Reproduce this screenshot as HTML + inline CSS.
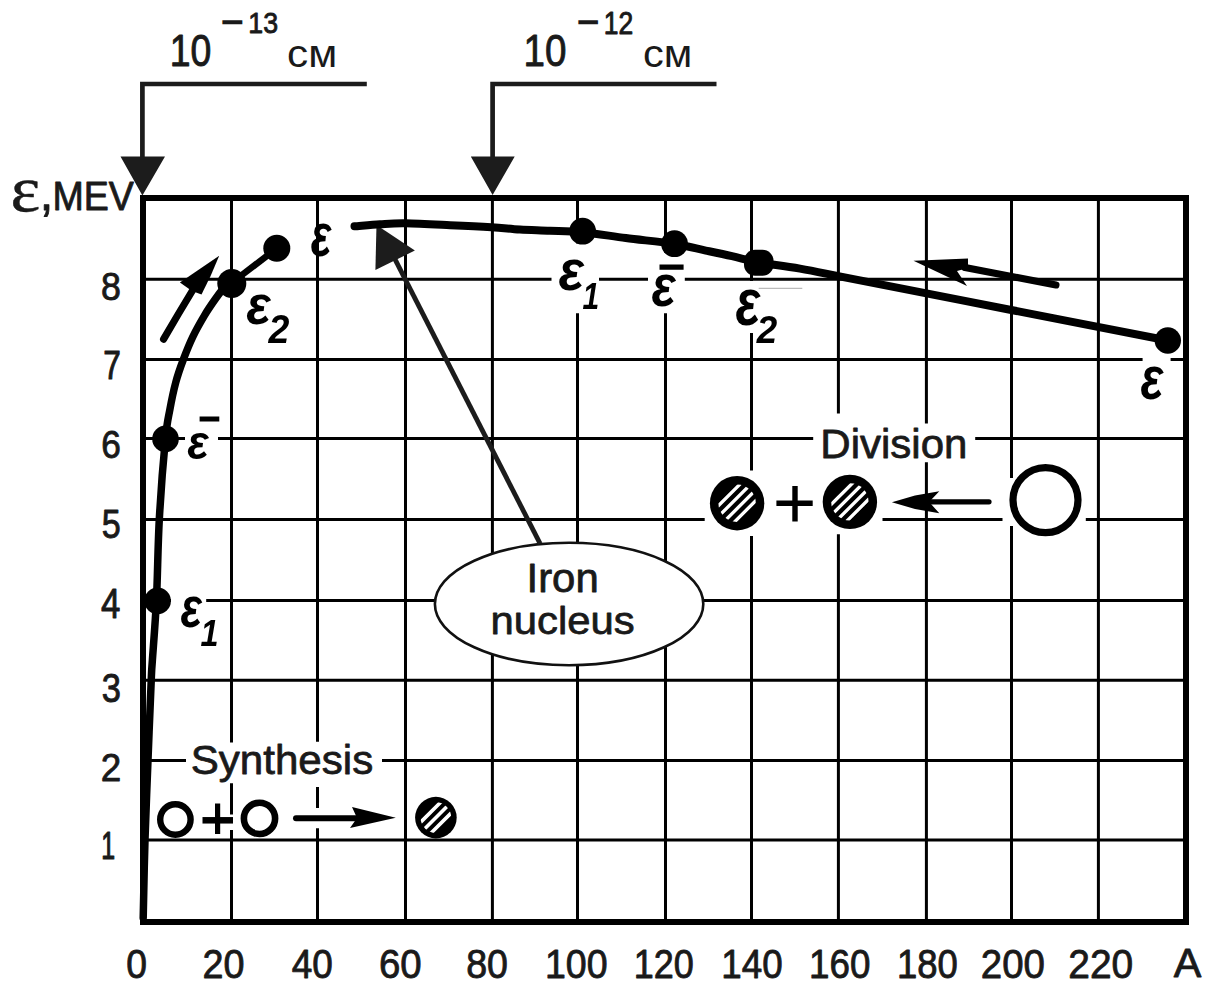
<!DOCTYPE html>
<html><head><meta charset="utf-8"><title>Binding energy per nucleon</title>
<style>html,body{margin:0;padding:0;background:#fff;}svg{display:block;}</style></head>
<body><svg width="1215" height="991" viewBox="0 0 1215 991">
<defs><filter id="soft" x="-2%" y="-2%" width="104%" height="104%"><feGaussianBlur stdDeviation="0.6"/></filter></defs>
<rect width="1215" height="991" fill="#fff"/>
<path d="M143.0,279.2H551.5M599.0,279.2H648.0M684.8,279.2H1186.0M143.0,359.6H1142.6M1170.6,359.6H1186.0M143.0,438.4H185.0M218.0,438.4H813.2M975.2,438.4H1186.0M143.0,519.6H704.7M882.5,519.6H1002.5M1085.8,519.6H1186.0M143.0,600.4H171.0M206.2,600.4H1186.0M143.0,680.3H1186.0M143.0,760.6H186.0M382.0,760.6H1186.0M143.0,839.9H1186.0M231.5,198.0V742.5M231.5,783.2V814.4M231.5,830.0V922.0M317.5,198.0V741.7M317.5,787.0V808.0M317.5,828.3V922.0M405.5,198.0V922.0M492.4,198.0V922.0M577.5,198.0V243.5M577.5,313.2V922.0M665.5,198.0V252.7M665.5,313.2V922.0M751.5,198.0V281.0M751.5,333.0V470.4M751.5,536.0V922.0M838.4,198.0V413.4M838.4,534.3V922.0M926.4,198.0V423.5M926.4,462.3V922.0M1011.5,198.0V478.0M1011.5,526.0V922.0M1098.4,198.0V922.0" stroke="#000" stroke-width="3" fill="none"/>
<rect x="143" y="198" width="1043" height="724" fill="none" stroke="#000" stroke-width="6"/>
<path d="M142.4,84H366.8M142.4,81.7V158M492.6,84H716.5M492.6,81.7V158" stroke="#1c1c1c" stroke-width="4.7" fill="none"/>
<path d="M120.5,156.6H165L142.4,195.5ZM470.8,156.6H514.7L492.6,195Z" fill="#1c1c1c"/>
<ellipse cx="569.1" cy="604" rx="134.2" ry="61.2" fill="#fff" stroke="#111" stroke-width="2.6"/>
<path d="M394.3,257.9L540.1,543.6" stroke="#1c1c1c" stroke-width="4.8" fill="none"/>
<path d="M376.5,225L375.4,270L414.9,250.5Z" fill="#1c1c1c"/>
<g filter="url(#soft)">
<path d="M143.2,918.0 C143.5,905.0 144.2,866.3 145.0,840.0 C145.8,813.7 147.0,786.5 148.0,760.0 C149.0,733.5 150.5,697.7 151.2,681.0 C151.9,664.3 151.5,673.3 152.4,660.0 C153.3,646.7 155.2,624.4 156.4,601.0 C157.6,577.6 157.8,546.5 159.3,519.5 C160.8,492.5 163.6,457.4 165.4,439.0 C167.2,420.6 168.2,418.8 169.9,409.4 C171.6,400.0 173.5,390.9 175.7,382.6 C177.9,374.3 180.4,367.3 183.3,359.6 C186.2,351.9 189.4,343.9 192.9,336.6 C196.4,329.3 200.6,322.0 204.4,315.6 C208.2,309.2 212.4,303.2 215.9,298.3 C219.4,293.4 222.9,288.6 225.5,286.0 C228.1,283.4 230.5,283.5 231.5,283.0" stroke="#000" stroke-width="7.5" fill="none" stroke-linecap="round"/>
<path d="M231.5,283L276.8,248.3" stroke="#000" stroke-width="6.5" fill="none"/>
<path d="M354.5,226.3 C358.8,226.0 371.4,224.7 380.0,224.2 C388.6,223.7 394.1,223.1 405.8,223.3 C417.5,223.5 435.7,224.5 450.0,225.2 C464.3,225.8 479.7,226.5 491.4,227.2 C503.1,227.9 510.2,228.9 520.0,229.5 C529.8,230.1 539.6,230.2 550.0,230.7 C560.4,231.1 570.0,231.0 582.6,232.2 C595.2,233.4 610.5,236.0 625.8,238.0 C641.1,240.0 661.2,241.9 674.5,244.0 C687.8,246.1 696.2,248.6 705.8,250.6 C715.4,252.6 723.2,254.2 732.0,256.2 C740.8,258.1 747.2,260.2 758.5,262.3 C769.8,264.4 783.1,265.6 800.0,268.6 C816.9,271.6 824.6,273.5 860.0,280.4 C895.4,287.3 961.2,300.2 1012.5,310.2 C1063.8,320.2 1141.9,335.4 1167.8,340.5" stroke="#000" stroke-width="8" fill="none" stroke-linecap="round"/>
<path d="M163.6,339.1Q178.5,313.5 194,288" stroke="#000" stroke-width="7.2" fill="none" stroke-linecap="round"/>
<path d="M179.9,282.6L219.2,255.7L210.6,276L201.5,294.5L192,291Z" fill="#000"/>
<path d="M965,267.5L1056,285" stroke="#000" stroke-width="7" fill="none" stroke-linecap="round"/>
<path d="M913.5,260.8L968,258.5L968,268L957,271L967,286Z" fill="#000"/>
<circle cx="231.8" cy="283.4" r="14.5" fill="#000"/>
<circle cx="276.8" cy="248.3" r="13.5" fill="#000"/>
<circle cx="165.5" cy="438.9" r="13.3" fill="#000"/>
<circle cx="157.6" cy="600.9" r="13.3" fill="#000"/>
<circle cx="582.6" cy="231.2" r="13.4" fill="#000"/>
<circle cx="674.5" cy="243.7" r="13.4" fill="#000"/>
<circle cx="1167.8" cy="340.5" r="13.2" fill="#000"/>
<rect x="744" y="249.7" width="29.5" height="26" rx="11" fill="#000"/>
<circle cx="175.4" cy="819.5" r="15.2" fill="#fff" stroke="#000" stroke-width="6.4"/>
<path d="M202.5,820.3H233" stroke="#000" stroke-width="6.5" fill="none"/><path d="M217.6,803.5V834" stroke="#000" stroke-width="5.2" fill="none"/>
<circle cx="259.5" cy="818.4" r="15.6" fill="#fff" stroke="#000" stroke-width="6.6"/>
<path d="M296,818.2H356" stroke="#000" stroke-width="6" fill="none" stroke-linecap="round"/>
<path d="M352,806.9L395.8,817.7L350,828L357,818Z" fill="#000"/>
<clipPath id="c435"><circle cx="435.9" cy="817.6" r="15.3"/></clipPath><circle cx="435.9" cy="817.6" r="20.8" fill="#000"/><g clip-path="url(#c435)"><path d="M395.9,810.1H475.9M395.9,817.6H475.9M395.9,825.1H475.9" stroke="#fff" stroke-width="3.6" transform="rotate(-45 435.9 817.6)"/></g>
<clipPath id="c737"><circle cx="737.1" cy="503.2" r="18.7"/></clipPath><circle cx="737.1" cy="503.2" r="27.2" fill="#000"/><g clip-path="url(#c737)"><path d="M697.1,491.8H777.1M697.1,499.4H777.1M697.1,507.0H777.1M697.1,514.6H777.1" stroke="#fff" stroke-width="3.3" transform="rotate(-45 737.1 503.2)"/></g>
<path d="M776.4,503.2H812.7M795,485.9V521.4" stroke="#000" stroke-width="5.4" fill="none"/>
<clipPath id="c849"><circle cx="849.9" cy="501.9" r="18.7"/></clipPath><circle cx="849.9" cy="501.9" r="27.2" fill="#000"/><g clip-path="url(#c849)"><path d="M809.9,490.5H889.9M809.9,498.09999999999997H889.9M809.9,505.7H889.9M809.9,513.3H889.9" stroke="#fff" stroke-width="3.3" transform="rotate(-45 849.9 501.9)"/></g>
<path d="M927,501.8H989" stroke="#000" stroke-width="5.2" fill="none" stroke-linecap="round"/>
<path d="M891.9,502.2L915,495.5L939.3,491.3L931,500L931,504L939.3,513.3L915,509Z" fill="#000"/>
<circle cx="1045.5" cy="500.1" r="32.5" fill="#fff" stroke="#000" stroke-width="7.2"/>
<path d="M758.7,288.4H802.3" stroke="#bbb" stroke-width="1.2"/>
<path d="M199.6,419H219.3M659.5,267.2H683.6" stroke="#000" stroke-width="5.2"/>
</g>
<text transform="translate(169.79,66.36) scale(0.8511,1)" font-family="'Liberation Sans', Arial, sans-serif" font-weight="normal" font-style="normal" font-size="43.94" fill="#1a1a1a" stroke="#1a1a1a" stroke-width="0.94" stroke-linejoin="round">10</text>
<text transform="translate(220.15,40.91) scale(0.7365,1)" font-family="'Liberation Sans', Arial, sans-serif" font-weight="normal" font-style="normal" font-size="55.71" fill="#1a1a1a">−</text>
<text transform="translate(248.29,32.90) scale(0.8996,1)" font-family="'Liberation Sans', Arial, sans-serif" font-weight="normal" font-style="normal" font-size="29.72" fill="#1a1a1a" stroke="#1a1a1a" stroke-width="0.89" stroke-linejoin="round">13</text>
<text transform="translate(287.10,66.82) scale(1.1008,1)" font-family="'Liberation Sans', Arial, sans-serif" font-weight="normal" font-style="normal" font-size="38.36" fill="#1a1a1a">см</text>
<text transform="translate(523.50,66.36) scale(0.8784,1)" font-family="'Liberation Sans', Arial, sans-serif" font-weight="normal" font-style="normal" font-size="43.94" fill="#1a1a1a" stroke="#1a1a1a" stroke-width="0.91" stroke-linejoin="round">10</text>
<text transform="translate(576.28,40.91) scale(0.7254,1)" font-family="'Liberation Sans', Arial, sans-serif" font-weight="normal" font-style="normal" font-size="55.71" fill="#1a1a1a">−</text>
<text transform="translate(603.81,33.70) scale(0.8587,1)" font-family="'Liberation Sans', Arial, sans-serif" font-weight="normal" font-style="normal" font-size="30.86" fill="#1a1a1a" stroke="#1a1a1a" stroke-width="0.93" stroke-linejoin="round">12</text>
<text transform="translate(642.93,66.82) scale(1.0815,1)" font-family="'Liberation Sans', Arial, sans-serif" font-weight="normal" font-style="normal" font-size="38.36" fill="#1a1a1a">см</text>
<text transform="translate(10.42,211.00) scale(1.0971,1)" font-family="'Liberation Serif', 'Times New Roman', serif" font-weight="normal" font-style="normal" font-size="64.58" fill="#1a1a1a" stroke="#1a1a1a" stroke-width="0.46" stroke-linejoin="round">ε</text>
<text transform="translate(39.41,210.10) scale(1.0000,1)" font-family="'Liberation Sans', Arial, sans-serif" font-weight="normal" font-style="normal" font-size="50.43" fill="#1a1a1a" stroke="#1a1a1a" stroke-width="0.80" stroke-linejoin="round">,</text>
<text transform="translate(52.39,210.20) scale(0.9399,1)" font-family="'Liberation Sans', Arial, sans-serif" font-weight="normal" font-style="normal" font-size="40.00" fill="#1a1a1a" stroke="#1a1a1a" stroke-width="0.85" stroke-linejoin="round">MEV</text>
<text transform="translate(100.89,299.51) scale(0.9064,1)" font-family="'Liberation Sans', Arial, sans-serif" font-weight="normal" font-style="normal" font-size="39.44" fill="#1a1a1a" stroke="#1a1a1a" stroke-width="0.88" stroke-linejoin="round">8</text>
<text transform="translate(103.32,379.20) scale(0.7635,1)" font-family="'Liberation Sans', Arial, sans-serif" font-weight="normal" font-style="normal" font-size="41.45" fill="#1a1a1a" stroke="#1a1a1a" stroke-width="1.05" stroke-linejoin="round">7</text>
<text transform="translate(101.34,457.51) scale(0.9126,1)" font-family="'Liberation Sans', Arial, sans-serif" font-weight="normal" font-style="normal" font-size="38.59" fill="#1a1a1a" stroke="#1a1a1a" stroke-width="0.88" stroke-linejoin="round">6</text>
<text transform="translate(101.74,537.70) scale(0.8557,1)" font-family="'Liberation Sans', Arial, sans-serif" font-weight="normal" font-style="normal" font-size="39.86" fill="#1a1a1a" stroke="#1a1a1a" stroke-width="0.93" stroke-linejoin="round">5</text>
<text transform="translate(101.03,618.00) scale(0.8337,1)" font-family="'Liberation Sans', Arial, sans-serif" font-weight="normal" font-style="normal" font-size="41.74" fill="#1a1a1a" stroke="#1a1a1a" stroke-width="0.96" stroke-linejoin="round">4</text>
<text transform="translate(101.72,701.80) scale(0.8647,1)" font-family="'Liberation Sans', Arial, sans-serif" font-weight="normal" font-style="normal" font-size="39.86" fill="#1a1a1a" stroke="#1a1a1a" stroke-width="0.93" stroke-linejoin="round">3</text>
<text transform="translate(100.65,780.60) scale(0.9573,1)" font-family="'Liberation Sans', Arial, sans-serif" font-weight="normal" font-style="normal" font-size="38.57" fill="#1a1a1a" stroke="#1a1a1a" stroke-width="0.84" stroke-linejoin="round">2</text>
<text transform="translate(101.23,858.70) scale(0.6504,1)" font-family="'Liberation Sans', Arial, sans-serif" font-weight="normal" font-style="normal" font-size="38.26" fill="#1a1a1a" stroke="#1a1a1a" stroke-width="1.23" stroke-linejoin="round">1</text>
<text transform="translate(126.31,977.89) scale(0.9186,1)" font-family="'Liberation Sans', Arial, sans-serif" font-weight="normal" font-style="normal" font-size="40.56" fill="#1a1a1a" stroke="#1a1a1a" stroke-width="0.87" stroke-linejoin="round">0</text>
<text transform="translate(202.51,977.89) scale(0.9308,1)" font-family="'Liberation Sans', Arial, sans-serif" font-weight="normal" font-style="normal" font-size="40.56" fill="#1a1a1a" stroke="#1a1a1a" stroke-width="0.86" stroke-linejoin="round">20</text>
<text transform="translate(291.78,977.89) scale(0.9110,1)" font-family="'Liberation Sans', Arial, sans-serif" font-weight="normal" font-style="normal" font-size="40.56" fill="#1a1a1a" stroke="#1a1a1a" stroke-width="0.88" stroke-linejoin="round">40</text>
<text transform="translate(378.88,977.89) scale(0.9476,1)" font-family="'Liberation Sans', Arial, sans-serif" font-weight="normal" font-style="normal" font-size="40.56" fill="#1a1a1a" stroke="#1a1a1a" stroke-width="0.84" stroke-linejoin="round">60</text>
<text transform="translate(466.21,977.89) scale(0.9263,1)" font-family="'Liberation Sans', Arial, sans-serif" font-weight="normal" font-style="normal" font-size="40.56" fill="#1a1a1a" stroke="#1a1a1a" stroke-width="0.86" stroke-linejoin="round">80</text>
<text transform="translate(544.88,977.89) scale(0.9259,1)" font-family="'Liberation Sans', Arial, sans-serif" font-weight="normal" font-style="normal" font-size="40.56" fill="#1a1a1a" stroke="#1a1a1a" stroke-width="0.86" stroke-linejoin="round">100</text>
<text transform="translate(633.70,977.89) scale(0.8878,1)" font-family="'Liberation Sans', Arial, sans-serif" font-weight="normal" font-style="normal" font-size="40.56" fill="#1a1a1a" stroke="#1a1a1a" stroke-width="0.90" stroke-linejoin="round">120</text>
<text transform="translate(721.34,977.89) scale(0.9068,1)" font-family="'Liberation Sans', Arial, sans-serif" font-weight="normal" font-style="normal" font-size="40.56" fill="#1a1a1a" stroke="#1a1a1a" stroke-width="0.88" stroke-linejoin="round">140</text>
<text transform="translate(809.04,977.89) scale(0.9068,1)" font-family="'Liberation Sans', Arial, sans-serif" font-weight="normal" font-style="normal" font-size="40.56" fill="#1a1a1a" stroke="#1a1a1a" stroke-width="0.88" stroke-linejoin="round">160</text>
<text transform="translate(897.07,977.89) scale(0.8989,1)" font-family="'Liberation Sans', Arial, sans-serif" font-weight="normal" font-style="normal" font-size="40.56" fill="#1a1a1a" stroke="#1a1a1a" stroke-width="0.89" stroke-linejoin="round">180</text>
<text transform="translate(980.78,977.89) scale(0.9471,1)" font-family="'Liberation Sans', Arial, sans-serif" font-weight="normal" font-style="normal" font-size="40.56" fill="#1a1a1a" stroke="#1a1a1a" stroke-width="0.84" stroke-linejoin="round">200</text>
<text transform="translate(1068.25,977.89) scale(0.9596,1)" font-family="'Liberation Sans', Arial, sans-serif" font-weight="normal" font-style="normal" font-size="40.56" fill="#1a1a1a" stroke="#1a1a1a" stroke-width="0.83" stroke-linejoin="round">220</text>
<text transform="translate(1173.79,977.40) scale(1.0379,1)" font-family="'Liberation Sans', Arial, sans-serif" font-weight="normal" font-style="normal" font-size="39.85" fill="#1a1a1a" stroke="#1a1a1a" stroke-width="0.77" stroke-linejoin="round">A</text>
<text transform="translate(190.70,774.22) scale(1.0557,1)" font-family="'Liberation Sans', Arial, sans-serif" font-weight="normal" font-style="normal" font-size="39.89" fill="#1a1a1a" stroke="#1a1a1a" stroke-width="0.76" stroke-linejoin="round">Synthesis</text>
<text transform="translate(820.34,458.10) scale(1.0464,1)" font-family="'Liberation Sans', Arial, sans-serif" font-weight="normal" font-style="normal" font-size="40.14" fill="#1a1a1a" stroke="#1a1a1a" stroke-width="0.76" stroke-linejoin="round">Division</text>
<text transform="translate(526.53,591.99) scale(1.0187,1)" font-family="'Liberation Sans', Arial, sans-serif" font-weight="normal" font-style="normal" font-size="41.14" fill="#1a1a1a" stroke="#1a1a1a" stroke-width="0.79" stroke-linejoin="round">Iron</text>
<text transform="translate(490.48,634.01) scale(1.0681,1)" font-family="'Liberation Sans', Arial, sans-serif" font-weight="normal" font-style="normal" font-size="39.18" fill="#1a1a1a" stroke="#1a1a1a" stroke-width="0.75" stroke-linejoin="round">nucleus</text>
<g filter="url(#soft)">
<text transform="translate(310.86,255.69) scale(0.7099,1)" font-family="'Liberation Sans', Arial, sans-serif" font-weight="bold" font-style="italic" font-size="60.55" fill="#000">ε</text>
<text transform="translate(246.23,324.45) scale(0.9269,1)" font-family="'Liberation Sans', Arial, sans-serif" font-weight="bold" font-style="italic" font-size="55.09" fill="#000">ε</text>
<text transform="translate(268.56,343.00) scale(0.9342,1)" font-family="'Liberation Sans', Arial, sans-serif" font-weight="bold" font-style="italic" font-size="40.14" fill="#000">2</text>
<text transform="translate(187.13,458.52) scale(0.9380,1)" font-family="'Liberation Sans', Arial, sans-serif" font-weight="bold" font-style="italic" font-size="47.64" fill="#000">ε</text>
<text transform="translate(180.53,626.63) scale(0.7777,1)" font-family="'Liberation Sans', Arial, sans-serif" font-weight="bold" font-style="italic" font-size="57.45" fill="#000">ε</text>
<text transform="translate(200.51,645.50) scale(0.8970,1)" font-family="'Liberation Sans', Arial, sans-serif" font-weight="bold" font-style="italic" font-size="36.09" fill="#000">1</text>
<text transform="translate(558.60,290.33) scale(0.9258,1)" font-family="'Liberation Sans', Arial, sans-serif" font-weight="bold" font-style="italic" font-size="57.45" fill="#000">ε</text>
<text transform="translate(582.55,309.30) scale(0.8308,1)" font-family="'Liberation Sans', Arial, sans-serif" font-weight="bold" font-style="italic" font-size="36.23" fill="#000">1</text>
<text transform="translate(651.44,306.10) scale(0.8404,1)" font-family="'Liberation Sans', Arial, sans-serif" font-weight="bold" font-style="italic" font-size="60.00" fill="#000">ε</text>
<text transform="translate(735.52,325.33) scale(0.7685,1)" font-family="'Liberation Sans', Arial, sans-serif" font-weight="bold" font-style="italic" font-size="67.27" fill="#000">ε</text>
<text transform="translate(756.85,343.00) scale(0.9432,1)" font-family="'Liberation Sans', Arial, sans-serif" font-weight="bold" font-style="italic" font-size="39.00" fill="#000">2</text>
<text transform="translate(1140.49,398.69) scale(0.7801,1)" font-family="'Liberation Sans', Arial, sans-serif" font-weight="bold" font-style="italic" font-size="61.09" fill="#000">ε</text>
</g>
</svg></body></html>
